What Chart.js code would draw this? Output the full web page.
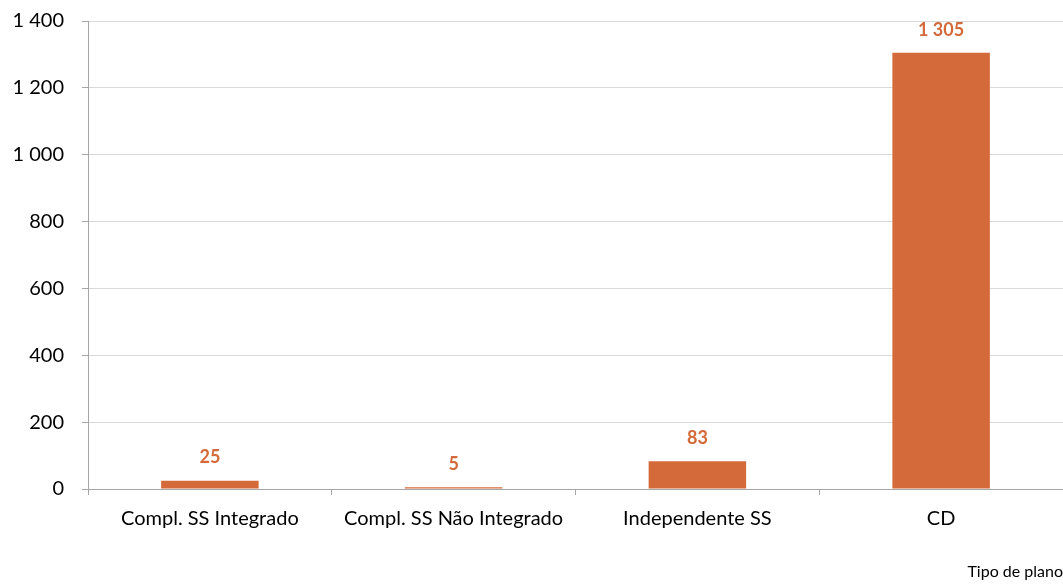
<!doctype html>
<html lang="pt">
<head>
<meta charset="utf-8">
<title>Tipo de plano</title>
<script src="https://cdn.jsdelivr.net/npm/chart.js"></script>
<style>
  html, body { margin: 0; padding: 0; background: #fff; }
  #wrap { width: 1063px; height: 586px; }
</style>
</head>
<body>
<div id="wrap"><canvas id="chart"></canvas></div>
<script>
  // dados
  const categorias = ["Compl. SS Integrado", "Compl. SS Não Integrado", "Independente SS", "CD"];
  const valores = [25, 5, 83, 1305];
  const yMin = 0, yMax = 1400, yPasso = 200;

  const laranja = "#D46A3A";
  const fonte = "Lato, 'Open Sans', sans-serif";

  function milhares(v) {
    return String(v).replace(/\B(?=(\d{3})+(?!\d))/g, " ");
  }

  // etiquetas por cima das barras
  const etiquetas = {
    id: "etiquetas",
    afterDatasetsDraw(chart) {
      const ctx = chart.ctx;
      const meta = chart.getDatasetMeta(0);
      ctx.save();
      ctx.fillStyle = laranja;
      ctx.font = "bold 18px " + fonte;
      ctx.textAlign = "center";
      ctx.textBaseline = "middle";
      meta.data.forEach((bar, i) => {
        ctx.fillText(milhares(valores[i]), bar.x, bar.y - 23);
      });
      ctx.restore();
    }
  };

  new Chart(document.getElementById("chart"), {
    type: "bar",
    data: {
      labels: categorias,
      datasets: [{
        data: valores,
        backgroundColor: laranja,
        borderWidth: 0,
        categoryPercentage: 0.4,
        barPercentage: 1
      }]
    },
    options: {
      responsive: true,
      maintainAspectRatio: false,
      animation: false,
      layout: { padding: 0 },
      plugins: {
        legend: { display: false },
        tooltip: { enabled: false }
      },
      scales: {
        y: {
          min: yMin,
          max: yMax,
          ticks: {
            stepSize: yPasso,
            color: "#000",
            padding: 18,
            font: { family: fonte, size: 20 },
            callback: v => milhares(v)
          },
          grid: { color: "#D9D9D9", tickColor: "#A6A6A6", tickLength: 6, lineWidth: 1 },
          border: { color: "#A6A6A6" },
          afterFit(scale) {
            scale.width = 88;
            scale.paddingTop = 21;
            scale.paddingBottom = 0;
          }
        },
        x: {
          ticks: {
            color: "#000",
            padding: 12,
            font: { family: fonte, size: 20 }
          },
          grid: { drawOnChartArea: false, tickColor: "#A6A6A6", tickLength: 6, offset: true },
          border: { color: "#A6A6A6" },
          title: {
            display: true,
            text: "Tipo de plano",
            align: "end",
            color: "#000",
            font: { family: fonte, size: 16 },
            padding: { top: 30, bottom: 5 }
          },
          afterFit(scale) { scale.height = 97; }
        }
      }
    },
    plugins: [etiquetas]
  });
</script>
</body>
</html>
